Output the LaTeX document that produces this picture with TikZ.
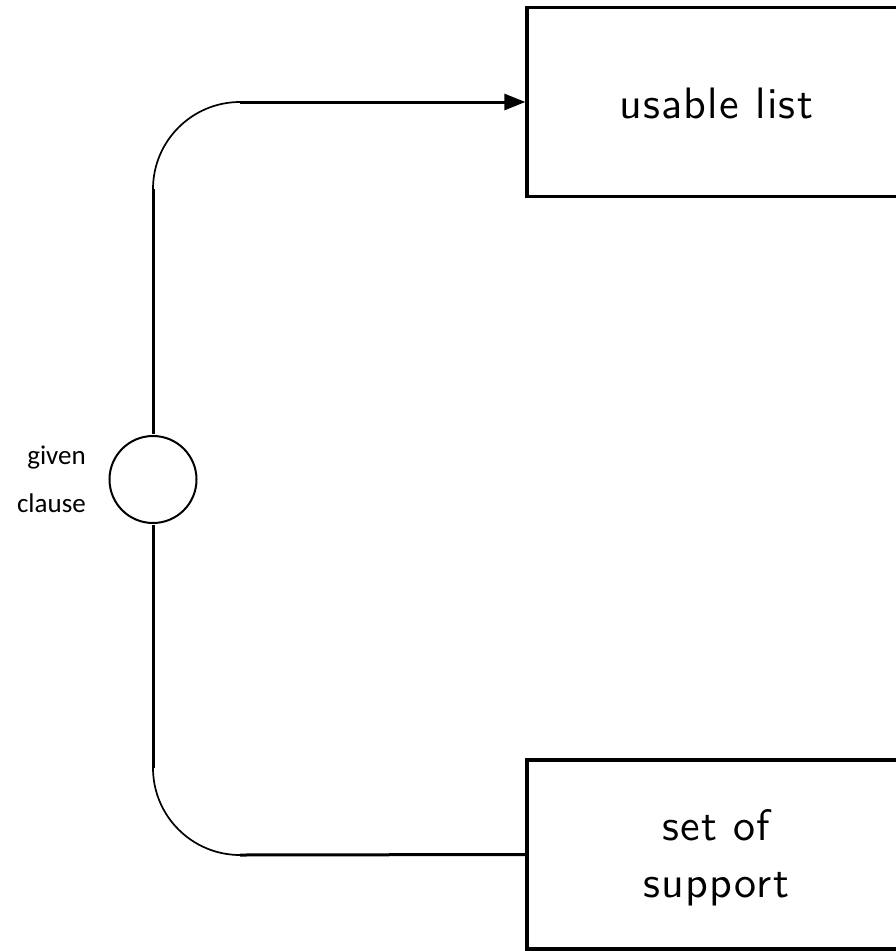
\documentclass[tikz,border=0pt]{standalone}
\usepackage{fontspec}
\newfontfamily\labelfont{Carlito}
\newfontfamily\boxfont{lmsans10-regular.otf}[LetterSpace=3]
\usetikzlibrary{arrows.meta}
\begin{document}
\begin{tikzpicture}[x=1pt,y=-1pt,
  listbox/.style={draw, line width=3.3pt, minimum width=378pt, minimum height=189pt, inner sep=0pt},
  boxtext/.style={font=\boxfont\fontsize{44}{57}\selectfont, align=center, inner sep=0pt},
  sidetext/.style={font=\labelfont\fontsize{27}{32}\selectfont, inner sep=0pt, anchor=base east},
  straightline/.style={line width=3pt},
  curveline/.style={line width=1.7pt},
  junction/.style={draw, circle, line width=2pt, minimum size=87pt, inner sep=0pt}]
\useasboundingbox (0,0) rectangle (896,951);
% boxes
\node[listbox] (usable) at (716,102) {};
\node[boxtext] (usabletext) at (716,103) {usable list};
\node[listbox] (sos) at (716,854.5) {};
\node[boxtext, anchor=north] (sostext) at (716,809) {set of\\support};
% given clause junction
\node[junction] (gc) at (153,479.5) {};
\node[sidetext] (given) at (86,464) {given};
\node[sidetext] (clause) at (86,512) {clause};
% upper connector
\coordinate (a1) at (153,189);
\coordinate (a2) at (240,102);
\draw[straightline, shorten <=1pt] (gc.north) -- (a1);
\draw[curveline] (a1) .. controls (153,141) and (192,102) .. (a2);
\draw[straightline, -{Triangle[length=21pt,width=16pt]}] (a2) -- (usable.west);
% lower connector
\coordinate (b1) at (153,768);
\coordinate (b2) at (240,855);
\draw[straightline, shorten <=1pt] (gc.south) -- (b1);
\draw[curveline] (b1) .. controls (153,816) and (192,855) .. (b2);
\draw[straightline] (b2) -- (sos.west);
\end{tikzpicture}
\end{document}
